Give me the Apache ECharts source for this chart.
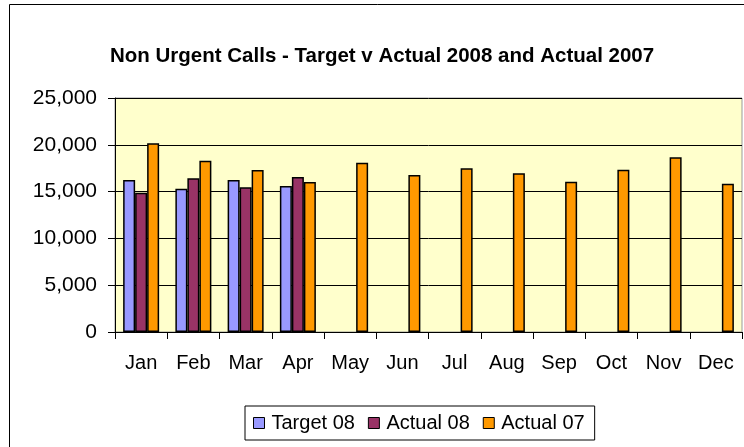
<!DOCTYPE html>
<html><head><meta charset="utf-8">
<script src="https://cdn.jsdelivr.net/npm/echarts@6/dist/echarts.min.js"></script>
<style>html,body{margin:0;padding:0;background:#fff}#c{width:744px;height:447px}</style>
</head><body><div id="c"></div>
<script>
const months = ['Jan','Feb','Mar','Apr','May','Jun','Jul','Aug','Sep','Oct','Nov','Dec'];
const target08 = [16240, 15310, 16240, 15600, '-', '-', '-', '-', '-', '-', '-', '-'];
const actual08 = [14880, 16420, 15460, 16560, '-', '-', '-', '-', '-', '-', '-', '-'];
const actual07 = [20160, 18300, 17310, 16030, 18090, 16770, 17490, 16950, 16060, 17340, 18660, 15850];
const yTicks = [0, 5000, 10000, 15000, 20000, 25000];

const chart = echarts.init(document.getElementById('c'));
const font = 'Liberation Sans, Arial, sans-serif';
const barStyle = c => ({color: c, borderColor: '#000', borderWidth: 1.5});
chart.setOption({
  animation: false,
  backgroundColor: '#fff',
  textStyle: {fontFamily: font},
  graphic: [{type: 'rect', shape: {x: 9.5, y: 4.5, width: 800, height: 500}, style: {fill: 'none', stroke: '#000', lineWidth: 1}}],
  title: {text: 'Non Urgent Calls - Target v Actual 2008 and Actual 2007', left: 105, top: 41,
    textStyle: {fontFamily: font, fontSize: 20.5, fontWeight: 'bold', color: '#000'}},
  legend: {left: 245, top: 406, padding: [7, 10, 7, 8],
    borderColor: '#000', borderWidth: 1, itemWidth: 11, itemHeight: 11, itemGap: 13,
    icon: 'rect', itemStyle: {borderColor: '#000', borderWidth: 1},
    textStyle: {fontFamily: font, fontSize: 20, color: '#000', padding: [0,0,0,2]},
    data: ['Target 08', 'Actual 08', 'Actual 07']},
  grid: {left: 115, right: 2, top: 98, bottom: 115, show: true, backgroundColor: '#FFFFCC', borderColor: '#999', borderWidth: 1},
  xAxis: {type: 'category', data: months,
    axisLine: {lineStyle: {color: '#000', width: 1}},
    axisTick: {show: true, length: 7, lineStyle: {color: '#000'}},
    axisLabel: {fontFamily: font, fontSize: 20, color: '#000', margin: 21}},
  yAxis: {type: 'value', min: yTicks[0], max: yTicks[yTicks.length-1], interval: 5000,
    axisLine: {show: true, lineStyle: {color: '#000', width: 1}},
    axisTick: {show: true, length: 7, lineStyle: {color: '#000'}},
    splitLine: {lineStyle: {color: '#000', width: 1}},
    axisLabel: {fontFamily: font, fontSize: 21, color: '#000', margin: 18,
      formatter: v => v.toLocaleString('en-US')}},
  series: [
    {name: 'Target 08', type: 'bar', data: target08, barWidth: 12, barGap: '0%', itemStyle: barStyle('#9999FF')},
    {name: 'Actual 08', type: 'bar', data: actual08, barWidth: 12, barGap: '0%', itemStyle: barStyle('#993366')},
    {name: 'Actual 07', type: 'bar', data: actual07, barWidth: 12, barGap: '0%', itemStyle: barStyle('#FF9900')}
  ]
});
</script></body></html>
